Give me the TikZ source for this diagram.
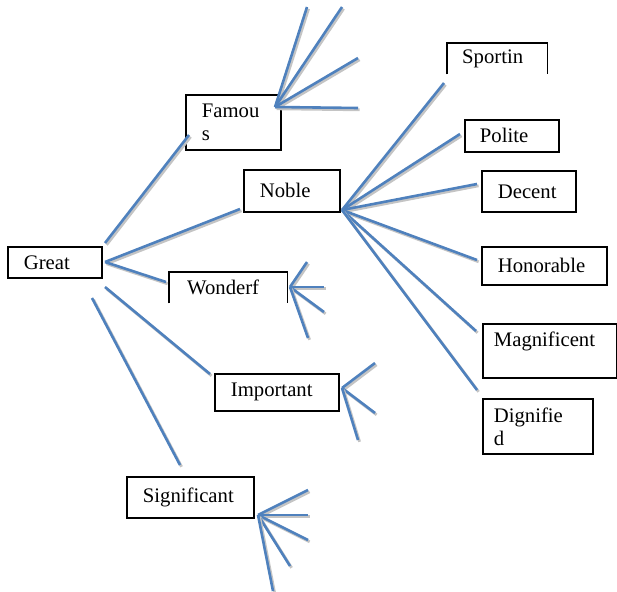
\documentclass[tikz,border=0pt]{standalone}
\usepackage{fontspec}
\setmainfont{Liberation Serif}
\definecolor{wordblue}{RGB}{79,129,189}
\definecolor{shade}{RGB}{196,196,196}
\tikzset{
  wbox/.style={draw, line width=1.8pt, anchor=north west, inner xsep=16pt, inner ysep=0pt, align=left},
  openbox/.style={anchor=north west, inner xsep=16pt, inner ysep=0pt, align=left},
  boxline/.style={line width=1.8pt},
  spoke/.style={draw=wordblue, line width=2.6pt},
  spokeshade/.style={draw=shade, line width=2.8pt},
}
% blue line with its grey shadow
\newcommand\spokeline[2]{%
  \draw[spokeshade] ([shift={(1.6,1.8)}]#1) -- ([shift={(1.6,1.8)}]#2);
  \draw[spoke] (#1) -- (#2);}
\begin{document}
\begin{tikzpicture}[x=1pt,y=-1pt,font=\rmfamily\fontsize{20.7}{23}\selectfont]
  \useasboundingbox (0,0) rectangle (617,591);
  % boxes
  \node[wbox, text width=62pt, minimum height=31pt] (great) at (7,246) {Great};
  \node[wbox, text width=63pt, minimum height=55pt] (famous) at (185,94) {Famou\\s};
  \node[wbox, text width=64pt, minimum height=42pt] (noble) at (243,169) {Noble};
  \node[openbox, inner xsep=18pt, text width=82pt, minimum height=31pt] (wonderf) at (169,272) {Wonderf};
  \draw[boxline] (wonderf.south west) -- (wonderf.north west) -- (wonderf.north east) -- (wonderf.south east);
  \node[wbox, text width=92pt, minimum height=37pt] (important) at (214,373) {Important};
  \node[wbox, text width=95pt, minimum height=41pt] (significant) at (126,476) {Significant};
  \node[openbox, inner xsep=15pt, text width=70pt, minimum height=31pt] (sportin) at (447,43) {Sportin};
  \draw[boxline] (sportin.south west) -- (sportin.north west) -- (sportin.north east) -- (sportin.south east);
  \node[wbox, inner xsep=15pt, text width=64pt, minimum height=32pt] (polite) at (464,119) {Polite};
  \node[wbox, text width=62pt, minimum height=41pt] (decent) at (481,170) {Decent};
  \node[wbox, text width=93pt, minimum height=38pt] (honorable) at (481,246) {Honorable};
  \node[wbox, inner xsep=11pt, text width=112pt, minimum height=54pt] (magnificent) at (482,323) {Magnificent\\\mbox{}};
  \node[wbox, inner xsep=11pt, text width=88pt, minimum height=55pt] (dignified) at (482,398) {Dignifie\\d};

  % spokes out of Great
  \coordinate (gtop) at (105,243);
  \coordinate (ghub) at (105,262);
  \coordinate (gmid) at (105,287);
  \coordinate (glow) at (92,298);
  \coordinate (tofamous) at (189,135);
  \coordinate (tonoble) at (240,209);
  \coordinate (towonderf) at (166,282);
  \coordinate (toimportant) at (210,374);
  \coordinate (tosignificant) at (180,465);
  \spokeline{gtop}{tofamous}
  \spokeline{ghub}{tonoble}
  \spokeline{ghub}{towonderf}
  \spokeline{gmid}{toimportant}
  \spokeline{glow}{tosignificant}

  % fans
  \coordinate (famhub) at (275,107);
  \foreach \x/\y [count=\i] in {307/7,342/7,358/58,358/108} {
    \coordinate (fam\i) at (\x,\y);
    \spokeline{famhub}{fam\i}
  }
  \coordinate (noblehub) at (342,210);
  \foreach \x/\y [count=\i] in {444/83,460/134,477/184,477/260,476/331,477/390} {
    \coordinate (nob\i) at (\x,\y);
    \spokeline{noblehub}{nob\i}
  }
  \coordinate (wonhub) at (290,287);
  \foreach \x/\y [count=\i] in {307/262,324/287,324/312,308/338} {
    \coordinate (won\i) at (\x,\y);
    \spokeline{wonhub}{won\i}
  }
  \coordinate (imphub) at (342,388);
  \foreach \x/\y [count=\i] in {375/363,375/413,358/440} {
    \coordinate (imp\i) at (\x,\y);
    \spokeline{imphub}{imp\i}
  }
  \coordinate (sighub) at (258,515);
  \foreach \x/\y [count=\i] in {308/490,308/515,308/540,290/566,273/591} {
    \coordinate (sig\i) at (\x,\y);
    \spokeline{sighub}{sig\i}
  }
\end{tikzpicture}
\end{document}
